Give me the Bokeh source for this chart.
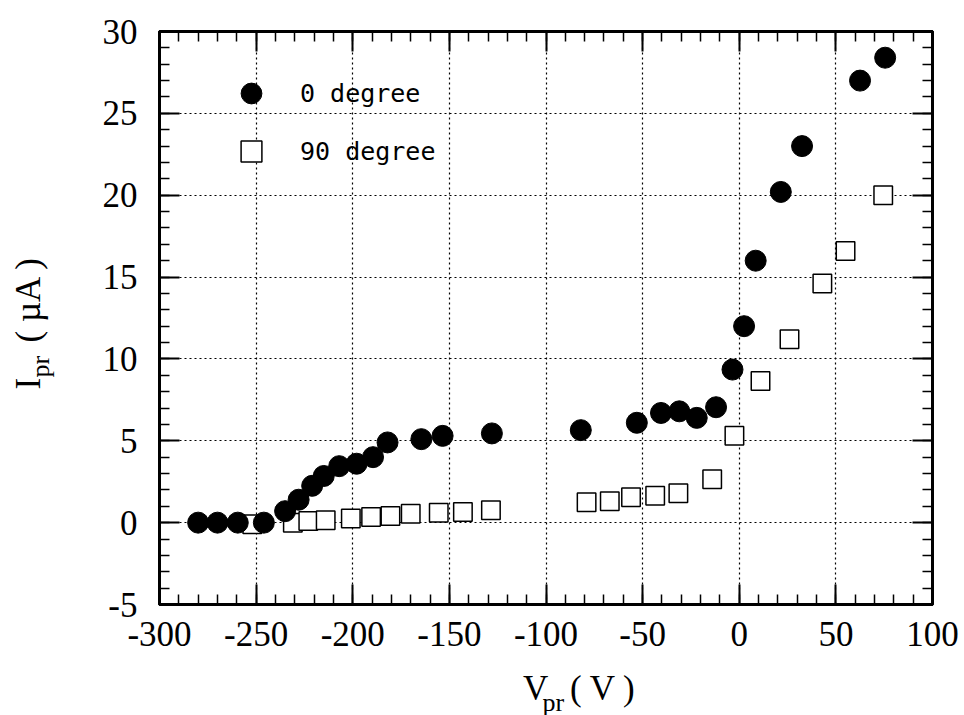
import math
from bokeh.plotting import figure
from bokeh.layouts import row, column
from bokeh.models import (Range1d, LinearAxis, SingleIntervalTicker, Legend,
                          LegendItem, Label, ColumnDataSource, CustomJSTickFormatter)
from bokeh.embed import file_html
from bokeh.resources import INLINE

# ---- data ----
v_0deg = [-280, -270, -259.5, -246, -235, -228, -221, -215, -207, -198, -189.5,
          -182, -164.5, -153.5, -128, -82, -53, -40.5, -31, -22, -12, -3.5,
          2.5, 8.5, 21.5, 32.5, 62.5, 75.5]
i_0deg = [0, 0, 0, 0, 0.7, 1.4, 2.25, 2.85, 3.45, 3.6, 4.0,
          4.9, 5.1, 5.3, 5.45, 5.65, 6.1, 6.7, 6.8, 6.4, 7.05, 9.35,
          12.0, 16.0, 20.2, 23.0, 27.0, 28.4]

v_90deg = [-252, -231, -223, -214, -201, -190.5, -180.5, -170, -155.5, -143,
           -128.5, -79, -67, -56, -43.5, -31.5, -14, -2.5, 11, 26, 43, 55, 74.5]
i_90deg = [-0.1, 0, 0.1, 0.15, 0.25, 0.35, 0.4, 0.55, 0.6, 0.65,
           0.75, 1.25, 1.3, 1.55, 1.65, 1.8, 2.65, 5.3, 8.65, 11.2, 14.6, 16.6, 20.0]

x_range = (-300, 100)
y_range = (-5, 30)
x_major = 50
y_major = 5
legend_labels = ["0 degree", "90 degree"]
xlabel_parts = ["V", "pr", "( V )"]
ylabel_parts = ["I", "pr", "( µA )"]

SERIF = "Liberation Serif"
W, H = 964, 715
YLAB_W = 60          # width of the strip holding the y-axis title
MAIN_H = 666         # height of the main plot; the x-axis title strip is below

# ---------------- main plot ----------------
p = figure(width=W - YLAB_W, height=MAIN_H, output_backend="svg",
           toolbar_location=None,
           x_range=Range1d(*x_range), y_range=Range1d(*y_range),
           min_border_left=159 - YLAB_W, min_border_right=32, min_border_top=31,
           min_border_bottom=MAIN_H - 604, background_fill_color="white",
           border_fill_color="white")

xt = SingleIntervalTicker(interval=x_major, num_minor_ticks=5)
yt = SingleIntervalTicker(interval=y_major, num_minor_ticks=5)
fmt = CustomJSTickFormatter(code="return String(tick);")

p.xaxis.ticker = xt
p.yaxis.ticker = yt
p.xgrid.ticker = xt
p.ygrid.ticker = yt

for g in (p.xgrid, p.ygrid):
    g.grid_line_color = "black"
    g.grid_line_dash = "2 3"
    g.grid_line_width = 1.2

p.outline_line_color = "black"
p.outline_line_width = 3

def style_axis(ax, show_labels):
    ax.axis_line_color = "black"
    ax.axis_line_width = 3
    ax.major_tick_in = 20
    ax.major_tick_out = 0
    ax.minor_tick_in = 10
    ax.minor_tick_out = 0
    ax.major_tick_line_color = "black"
    ax.major_tick_line_width = 2
    ax.minor_tick_line_color = "black"
    ax.minor_tick_line_width = 1.5
    if show_labels:
        ax.formatter = fmt
        ax.major_label_text_font = SERIF
        ax.major_label_text_font_size = "35px"
        ax.major_label_text_color = "black"
    else:
        ax.major_label_text_font_size = "1px"
        ax.major_label_text_color = None
        ax.major_label_standoff = 0

style_axis(p.xaxis[0], True)
style_axis(p.yaxis[0], True)
p.xaxis[0].major_label_standoff = 17
p.yaxis[0].major_label_standoff = 22

top = LinearAxis(ticker=xt)
right = LinearAxis(ticker=yt)
style_axis(top, False)
style_axis(right, False)
p.add_layout(top, "above")
p.add_layout(right, "right")

src90 = ColumnDataSource(dict(v=v_90deg, i=i_90deg))
src0 = ColumnDataSource(dict(v=v_0deg, i=i_0deg))
r90 = p.scatter("v", "i", source=src90, marker="square", size=18.5,
                fill_color="white", line_color="black", line_width=1.5)
r0 = p.scatter("v", "i", source=src0, marker="circle", size=21,
               fill_color="black", line_color="black")

legend = Legend(items=[LegendItem(label=legend_labels[0], renderers=[r0]),
                       LegendItem(label=legend_labels[1], renderers=[r90])],
                location=(66, 427), margin=0, padding=0, spacing=6,
                glyph_width=52, glyph_height=52, label_standoff=23,
                label_text_font="DejaVu Sans Mono", label_text_font_size="25px",
                label_text_color="black", border_line_color=None,
                background_fill_alpha=0)
p.add_layout(legend, "center")

# ---------------- y-axis title strip ----------------
ylab = figure(width=YLAB_W, height=MAIN_H, output_backend="svg",
              toolbar_location=None, x_range=Range1d(0, YLAB_W),
              y_range=Range1d(0, MAIN_H), x_axis_type=None, y_axis_type=None,
              min_border=0, outline_line_color=None)
ylab.grid.visible = False
ang = math.pi / 2
# (text, pixel x of text middle, pixel y of start, font size)
for txt, px, py, fs in [(ylabel_parts[0], 28, 389, "35px"),
                        (ylabel_parts[1], 39.5, 377, "26px"),
                        (ylabel_parts[2], 28, 342, "35px")]:
    ylab.add_layout(Label(x=px, y=MAIN_H - py, text=txt, angle=ang,
                          text_font=SERIF, text_font_size=fs, text_align="left",
                          text_baseline="middle", text_color="black"))

# ---------------- x-axis title strip ----------------
XLAB_H = H - MAIN_H
xlab = figure(width=W - YLAB_W, height=XLAB_H, output_backend="svg",
              toolbar_location=None, x_range=Range1d(YLAB_W, W),
              y_range=Range1d(0, XLAB_H), x_axis_type=None, y_axis_type=None,
              min_border=0, outline_line_color=None)
xlab.grid.visible = False
for txt, px, py, fs in [(xlabel_parts[0], 485, 688, "35px"),
                        (xlabel_parts[1], 508, 701.5, "26px"),
                        (xlabel_parts[2], 540, 688, "35px")]:
    xlab.add_layout(Label(x=px, y=H - py, text=txt,
                          text_font=SERIF, text_font_size=fs, text_align="left",
                          text_baseline="middle", text_color="black"))

layout = row(ylab, column(p, xlab, spacing=0), spacing=0)
open("out.html", "w").write(file_html(layout, INLINE))
